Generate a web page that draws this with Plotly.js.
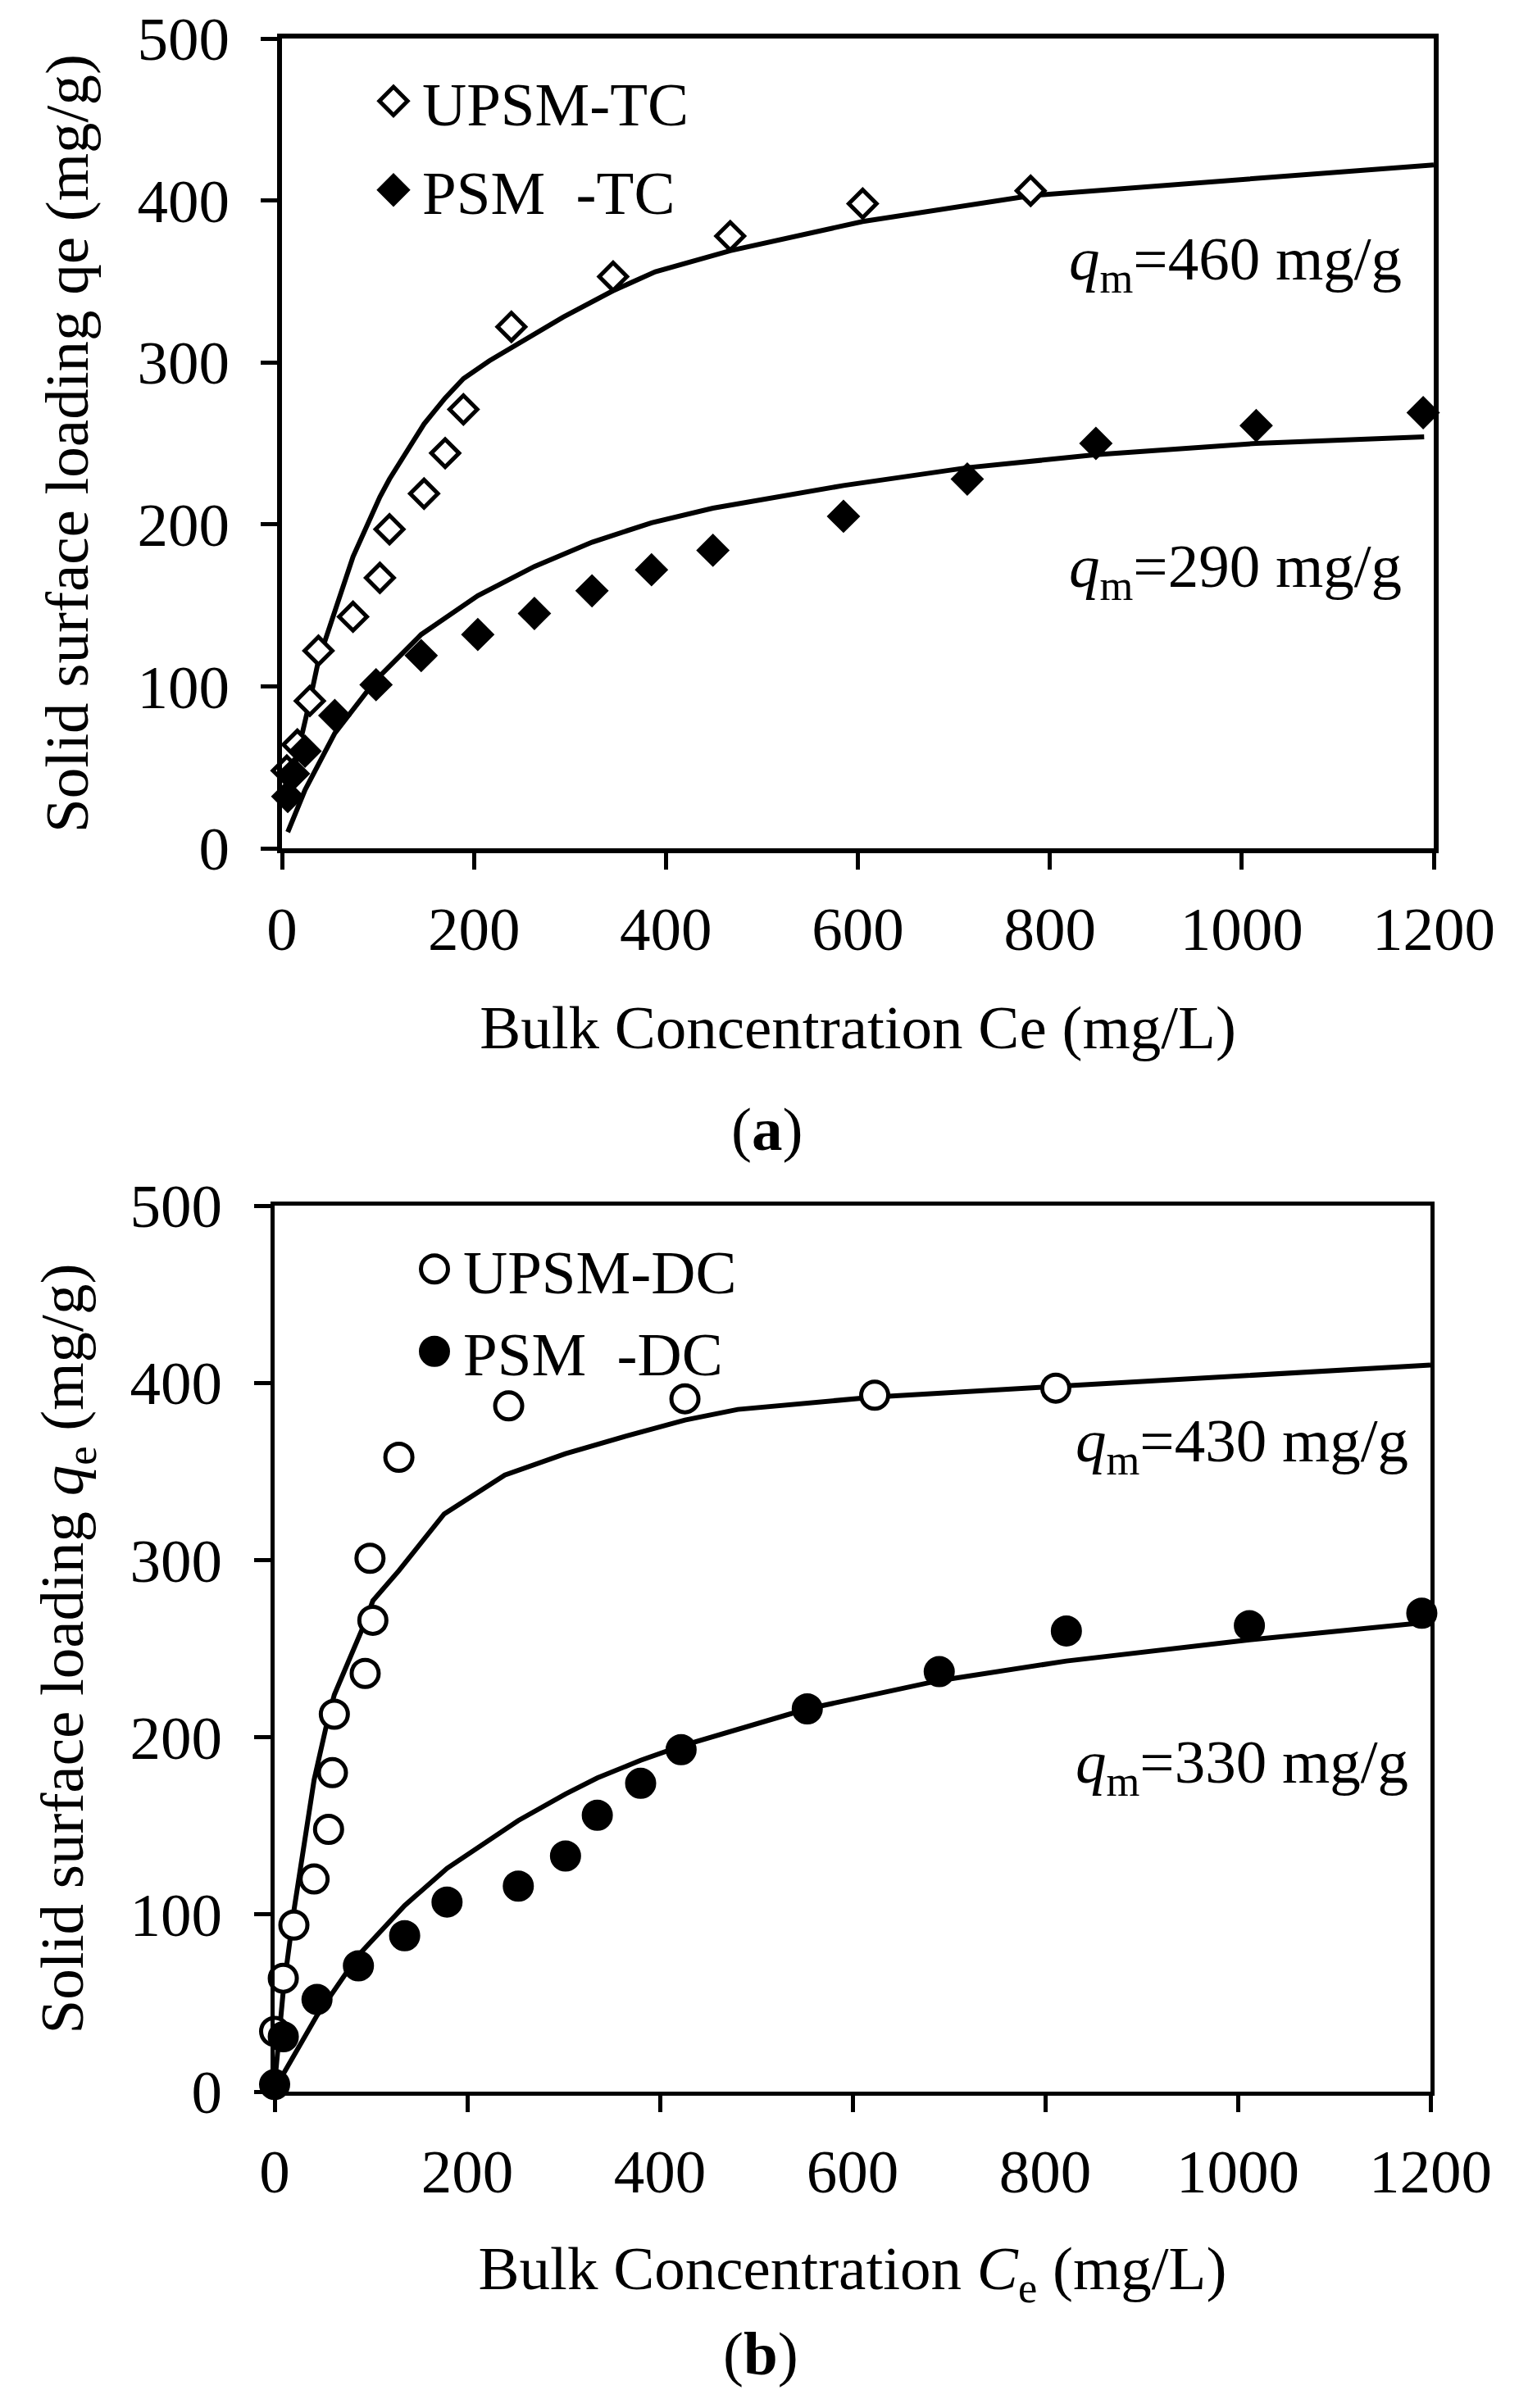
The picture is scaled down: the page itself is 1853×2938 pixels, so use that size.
<!DOCTYPE html>
<html>
<head>
<meta charset="utf-8">
<script src="https://cdn.plot.ly/plotly-3.0.1.min.js"></script>
<style>html,body{margin:0;padding:0;background:#fff;}#chart{width:1853px;height:2938px;}</style>
</head>
<body>
<div id="chart"></div>
<script>
const xTicks = [0, 200, 400, 600, 800, 1000, 1200];
const yTicks = [0, 100, 200, 300, 400, 500];

// Panel (a): TC
const aUpsmX = [5, 16, 29, 38, 74, 102, 112, 148, 170, 189, 239, 345, 467, 605, 780];
const aUpsmY = [48, 64, 91, 122, 143, 167, 197, 219, 244, 271, 322, 353, 378, 398, 406];
const aPsmX = [6, 12, 24, 55, 98, 145, 204, 263, 323, 385, 449, 585, 714, 848, 1015, 1189];
const aPsmY = [32, 46, 60, 82, 101, 119, 132, 145, 159, 172, 184, 205, 228, 250, 261, 269];
const aFitUpX = [7, 16, 29, 38, 74, 102, 112, 148, 170, 189, 216, 250, 293, 344, 389, 467, 605, 780, 1200];
const aFitUpY = [27, 58, 91, 116, 180, 217, 228, 262, 278, 290, 301, 313, 328, 344, 356, 369, 387, 403, 422];
const aFitLowX = [6, 12, 24, 55, 98, 145, 204, 263, 323, 385, 449, 585, 714, 848, 1015, 1190];
const aFitLowY = [10, 19, 36, 71, 104, 132, 156, 174, 189, 201, 210, 224, 235, 243, 250, 254];

// Panel (b): DC
const bUpsmX = [0, 9, 20, 41, 56, 60, 62, 94, 102, 99, 129, 243, 426, 623, 811];
const bUpsmY = [34, 64, 94, 120, 148, 180, 213, 236, 266, 301, 358, 387, 391, 393, 397];
const bPsmX = [0, 9, 44, 87, 135, 179, 253, 302, 335, 380, 422, 553, 690, 822, 1012, 1191];
const bPsmY = [4, 31, 52, 71, 88, 107, 116, 133, 156, 174, 193, 216, 237, 260, 263, 270];
const bFitUpX = [0, 9, 20, 41, 56, 60, 62, 94, 99, 102, 129, 176, 239, 302, 365, 426, 481, 623, 811, 1200];
const bFitUpY = [4, 57, 102, 176, 212, 219, 224, 265, 272, 277, 294, 326, 348, 360, 370, 379, 385, 392, 398, 410];
const bFitLowX = [0, 9, 44, 87, 135, 179, 253, 302, 335, 380, 422, 553, 690, 822, 1012, 1200];
const bFitLowY = [2, 10, 43, 77, 105, 126, 153, 168, 177, 187, 195, 216, 232, 243, 255, 265];

const seriesNames = ['UPSM-TC', 'PSM\u00a0\u00a0-TC', 'UPSM-DC', 'PSM\u00a0\u00a0-DC'];
const qmLabels = ['460', '290', '430', '330'];

const FONT = 'Liberation Serif, Times New Roman, serif';
const FS = 75;
const W = 1853, H = 2938;

function lineTrace(x, y, xa, ya) {
  return {x: x, y: y, xaxis: xa, yaxis: ya, mode: 'lines', type: 'scatter',
          line: {color: 'black', width: 6}, showlegend: false, hoverinfo: 'skip'};
}
function markTrace(x, y, xa, ya, name, symbol, fill, legend, group) {
  return {x: x, y: y, xaxis: xa, yaxis: ya, mode: 'markers', type: 'scatter', name: name,
          legend: legend, legendgroup: group, cliponaxis: false,
          marker: {symbol: symbol, size: symbol === 'circle' ? 33 : 26, color: fill,
                   line: {color: 'black', width: 5}}};
}

const traces = [
  lineTrace(aFitUpX, aFitUpY, 'x', 'y'),
  lineTrace(aFitLowX, aFitLowY, 'x', 'y'),
  markTrace(aUpsmX, aUpsmY, 'x', 'y', seriesNames[0], 'diamond', 'white', 'legend', 'g1'),
  markTrace(aPsmX, aPsmY, 'x', 'y', seriesNames[1], 'diamond', 'black', 'legend', 'g2'),
  lineTrace(bFitUpX, bFitUpY, 'x2', 'y2'),
  lineTrace(bFitLowX, bFitLowY, 'x2', 'y2'),
  markTrace(bUpsmX, bUpsmY, 'x2', 'y2', seriesNames[2], 'circle', 'white', 'legend2', 'g3'),
  markTrace(bPsmX, bPsmY, 'x2', 'y2', seriesNames[3], 'circle', 'black', 'legend2', 'g4')
];

function axisBase(extra) {
  return Object.assign({
    showline: true, linecolor: 'black', linewidth: 6, mirror: true,
    ticks: 'outside', ticklen: 20, tickwidth: 5, tickcolor: 'black',
    showgrid: false, zeroline: false, fixedrange: true,
    tickfont: {family: FONT, size: FS, color: 'black'},
    automargin: false
  }, extra);
}

const px = v => v / W;
const py = v => 1 - v / H;

const layout = {
  width: W, height: H,
  margin: {l: 0, r: 0, t: 0, b: 0},
  paper_bgcolor: 'white', plot_bgcolor: 'white',
  font: {family: FONT, size: FS, color: 'black'},
  xaxis: axisBase({domain: [px(344), px(1749)], anchor: 'y', range: [0, 1200], tickvals: xTicks,
    ticklabelstandoff: 8,
    title: {text: 'Bulk Concentration Ce (mg/L)', font: {family: FONT, size: FS}, standoff: 54}}),
  yaxis: axisBase({domain: [py(1035), py(47)], anchor: 'x', range: [0, 500], tickvals: yTicks,
    ticklabelstandoff: 23,
    title: {text: 'Solid surface loading qe (mg/g)', font: {family: FONT, size: FS}, standoff: 37}}),
  xaxis2: axisBase({domain: [px(335), px(1745)], anchor: 'y2', range: [0, 1200], tickvals: xTicks,
    linewidth: 5, ticklabelstandoff: 8,
    title: {text: 'Bulk Concentration <i>C</i><sub>e</sub> (mg/L)', font: {family: FONT, size: FS}, standoff: 52}}),
  yaxis2: axisBase({domain: [py(2552), py(1471)], anchor: 'x2', range: [0, 500], tickvals: yTicks,
    linewidth: 5, ticklabelstandoff: 24,
    title: {text: 'Solid surface loading <i>q</i><sub>e</sub> (mg/g)', font: {family: FONT, size: FS}, standoff: 34}}),
  legend: {x: px(445), y: py(68), xanchor: 'left', yanchor: 'top', bgcolor: 'rgba(0,0,0,0)',
    borderwidth: 0, font: {family: FONT, size: FS}, traceorder: 'grouped', tracegroupgap: 8, itemwidth: 60},
  legend2: {x: px(495), y: py(1493), xanchor: 'left', yanchor: 'top', bgcolor: 'rgba(0,0,0,0)',
    borderwidth: 0, font: {family: FONT, size: FS}, traceorder: 'grouped', tracegroupgap: 0, itemwidth: 60},
  annotations: [
    {text: '<i>q</i><sub>m</sub>=' + qmLabels[0] + ' mg/g', x: px(1712), y: py(321)},
    {text: '<i>q</i><sub>m</sub>=' + qmLabels[1] + ' mg/g', x: px(1712), y: py(696)},
    {text: '<i>q</i><sub>m</sub>=' + qmLabels[2] + ' mg/g', x: px(1720), y: py(1763)},
    {text: '<i>q</i><sub>m</sub>=' + qmLabels[3] + ' mg/g', x: px(1720), y: py(2155)}
  ].map(a => Object.assign(a, {xref: 'paper', yref: 'paper', xanchor: 'right', yanchor: 'middle',
    showarrow: false, font: {family: FONT, size: FS, color: 'black'}})).concat([
    {text: '(<b>a</b>)', x: px(935), y: py(1377)},
    {text: '(<b>b</b>)', x: px(928), y: py(2871)}
  ].map(a => Object.assign(a, {xref: 'paper', yref: 'paper', xanchor: 'center', yanchor: 'middle',
    showarrow: false, font: {family: FONT, size: FS, color: 'black'}})))
};

Plotly.newPlot('chart', traces, layout, {staticPlot: true, displayModeBar: false}).then(function () {
  // enlarge legend symbols to match the plotted marker size
  [['g.legend', 1.65], ['g.legend2', 2.06]].forEach(function (p) {
    document.querySelectorAll(p[0] + ' path.scatterpts').forEach(function (el) {
      var t = el.getAttribute('transform') || '';
      el.setAttribute('transform', t + ' scale(' + p[1] + ')');
      el.style.strokeWidth = (5 / p[1]) + 'px';
    });
  });
});
</script>
</body>
</html>
